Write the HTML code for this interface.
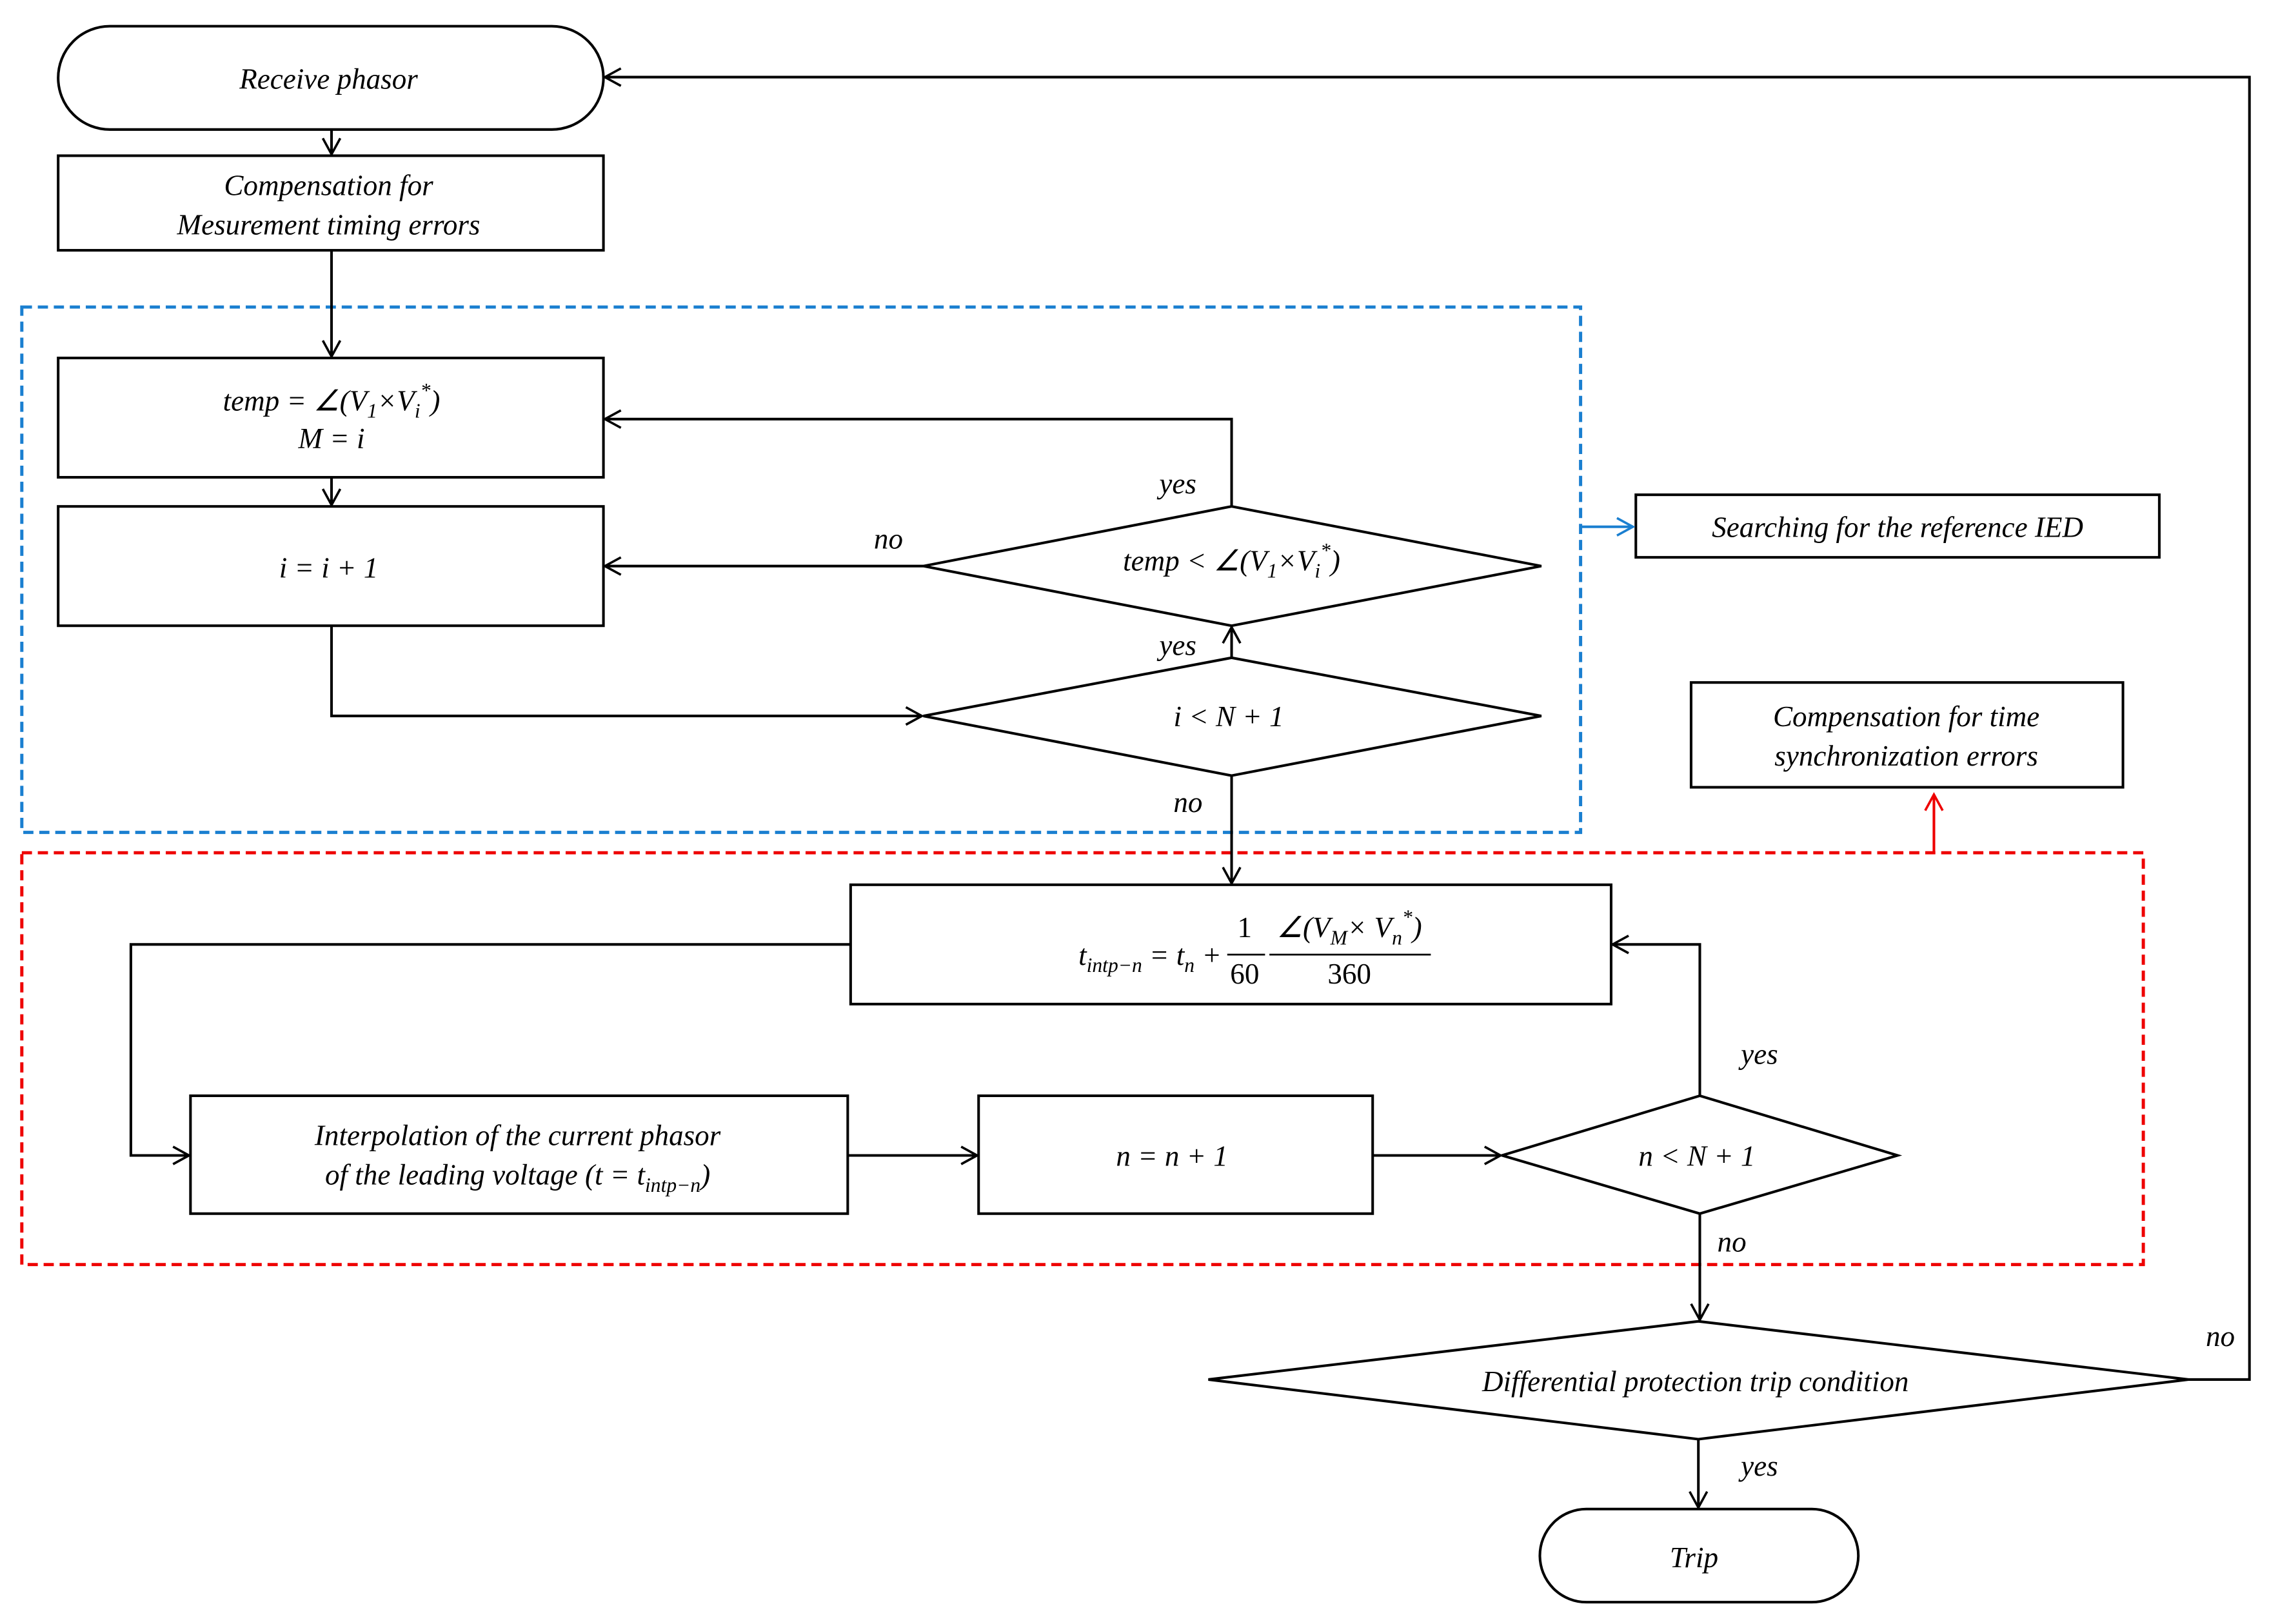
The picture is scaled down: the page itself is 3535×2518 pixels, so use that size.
<!DOCTYPE html>
<html><head><meta charset="utf-8"><style>html,body{margin:0;padding:0;background:#fff}svg{display:block}</style></head>
<body>
<svg width="3535" height="2518" viewBox="0 0 1568 1116" preserveAspectRatio="none" xmlns="http://www.w3.org/2000/svg" font-family="Liberation Serif, serif" font-style="italic" font-size="20">
<defs>
<marker id="a" markerWidth="14" markerHeight="14" refX="12" refY="7" orient="auto" markerUnits="userSpaceOnUse"><path d="M1,1 L12,7 L1,13" fill="none" stroke="#000" stroke-width="1.6"/></marker>
<marker id="ab" markerWidth="14" markerHeight="14" refX="12" refY="7" orient="auto" markerUnits="userSpaceOnUse"><path d="M1,1 L12,7 L1,13" fill="none" stroke="#1a7fd0" stroke-width="1.6"/></marker>
<marker id="ar" markerWidth="14" markerHeight="14" refX="12" refY="7" orient="auto" markerUnits="userSpaceOnUse"><path d="M1,1 L12,7 L1,13" fill="none" stroke="#e00" stroke-width="1.6"/></marker>
</defs>
<g fill="none" stroke-width="2.2" stroke-dasharray="7,4">
<rect x="15" y="211" width="1072" height="361" stroke="#1a7fd0"/>
<rect x="15" y="586" width="1459" height="283" stroke="#e00"/>
</g>
<g fill="#fff" stroke="#000" stroke-width="1.8">
<rect x="40" y="18" width="375" height="71" rx="35.5"/>
<rect x="40" y="107" width="375" height="65"/>
<rect x="40" y="246" width="375" height="82"/>
<rect x="40" y="348" width="375" height="82"/>
<polygon points="635,389 847,348 1060,389 847,430"/>
<polygon points="635,492 847,452 1060,492 847,533"/>
<rect x="1125" y="340" width="360" height="43"/>
<rect x="1163" y="469" width="297" height="72"/>
<rect x="585" y="608" width="523" height="82"/>
<rect x="131" y="753" width="452" height="81"/>
<rect x="673" y="753" width="271" height="81"/>
<polygon points="1033,794 1169,753 1305,794 1169,834"/>
<polygon points="831,948 1168,908 1505,948 1168,989"/>
<rect x="1059" y="1037" width="219" height="64" rx="32"/>
</g>
<g fill="none" stroke="#000" stroke-width="1.8">
<path d="M228,89 V106" marker-end="url(#a)"/>
<path d="M228,172 V245" marker-end="url(#a)"/>
<path d="M228,328 V347" marker-end="url(#a)"/>
<path d="M847,348 V288 H416" marker-end="url(#a)"/>
<path d="M635,389 H416" marker-end="url(#a)"/>
<path d="M847,452 V431" marker-end="url(#a)"/>
<path d="M228,430 V492 H634" marker-end="url(#a)"/>
<path d="M847,533 V607" marker-end="url(#a)"/>
<path d="M585,649 H90 V794 H130" marker-end="url(#a)"/>
<path d="M583,794 H672" marker-end="url(#a)"/>
<path d="M944,794 H1032" marker-end="url(#a)"/>
<path d="M1169,753 V649 H1109" marker-end="url(#a)"/>
<path d="M1169,834 V907" marker-end="url(#a)"/>
<path d="M1505,948 H1547 V53 H416" marker-end="url(#a)"/>
<path d="M1168,989 V1036" marker-end="url(#a)"/>
</g>
<path d="M1087,362 H1123" stroke="#1a7fd0" stroke-width="1.8" fill="none" marker-end="url(#ab)"/>
<path d="M1330,586 V546" stroke="#e00" stroke-width="1.8" fill="none" marker-end="url(#ar)"/>
<g fill="#000" text-anchor="middle">
<text x="226" y="61">Receive phasor</text>
<text x="226" y="134">Compensation for</text>
<text x="226" y="161">Mesurement timing errors</text>
<text x="228" y="282">temp = ∠(V<tspan font-size="14" dy="5">1</tspan><tspan dy="-5">×V</tspan><tspan font-size="14" dy="5">i</tspan><tspan font-size="14" dy="-14">*</tspan><tspan dy="9">)</tspan></text>
<text x="228" y="308">M = i</text>
<text x="226" y="397">i = i + 1</text>
<text x="847" y="392">temp &lt; ∠(V<tspan font-size="14" dy="5">1</tspan><tspan dy="-5">×V</tspan><tspan font-size="14" dy="5">i</tspan><tspan font-size="14" dy="-14">*</tspan><tspan dy="9">)</tspan></text>
<text x="845" y="499">i  &lt;  N + 1</text>
<text x="1305" y="369">Searching for the reference IED</text>
<text x="1311" y="499">Compensation for time</text>
<text x="1311" y="526">synchronization errors</text>
<text x="840" y="663" text-anchor="end">t<tspan font-size="14" dy="5">intp−n</tspan><tspan dy="-5"> = t</tspan><tspan font-size="14" dy="5">n</tspan><tspan dy="-5"> +</tspan></text>
<text x="856" y="644" font-style="normal">1</text>
<text x="856" y="676" font-style="normal">60</text>
<text x="928" y="644">∠(V<tspan font-size="14" dy="5">M</tspan><tspan dy="-5">× V</tspan><tspan font-size="14" dy="5">n</tspan><tspan font-size="14" dy="-14">*</tspan><tspan dy="9">)</tspan></text>
<text x="928" y="676" font-style="normal">360</text>
<text x="356" y="787">Interpolation of the current phasor</text>
<text x="356" y="814">of the leading voltage (t = t<tspan font-size="14" dy="5">intp−n</tspan><tspan dy="-5">)</tspan></text>
<text x="806" y="801">n = n + 1</text>
<text x="1167" y="801">n &lt; N + 1</text>
<text x="1166" y="956">Differential protection trip condition</text>
<text x="1165" y="1077">Trip</text>
<text x="810" y="339">yes</text>
<text x="611" y="377">no</text>
<text x="810" y="450">yes</text>
<text x="817" y="558">no</text>
<text x="1210" y="731">yes</text>
<text x="1191" y="860">no</text>
<text x="1527" y="925">no</text>
<text x="1210" y="1014">yes</text>
</g>
<line x1="844" y1="656" x2="870" y2="656" stroke="#000" stroke-width="1.2"/>
<line x1="873" y1="656" x2="984" y2="656" stroke="#000" stroke-width="1.2"/>
</svg>
</body></html>
